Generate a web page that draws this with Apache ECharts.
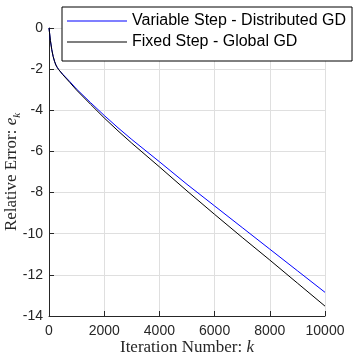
<!DOCTYPE html>
<html>
<head>
<meta charset="utf-8">
<script src="https://cdn.jsdelivr.net/npm/echarts@6/dist/echarts.min.js"></script>
<style>html,body{margin:0;padding:0;background:#fff}#c{width:360px;height:360px}</style>
</head>
<body>
<div id="c"></div>
<script>
const iterations   = [0, 50, 100, 150, 200, 250, 300, 350, 500, 750, 1000, 1500, 2000, 2500, 3000, 4000, 5000, 6000, 7000, 8000, 9000, 10000];
const variableStep = [0, -0.6, -1.05, -1.38, -1.62, -1.8, -1.92, -2.02, -2.25, -2.6, -2.97, -3.62, -4.25, -4.85, -5.42, -6.5, -7.6, -8.65, -9.7, -10.75, -11.8, -12.85];
const fixedStep    = [0, -0.6, -1.05, -1.38, -1.62, -1.8, -1.92, -2.02, -2.27, -2.64, -3.02, -3.7, -4.37, -5.0, -5.6, -6.75, -7.92, -9.06, -10.18, -11.28, -12.4, -13.52];
const seriesNames  = ['Variable Step - Distributed GD', 'Fixed Step - Global GD'];
const xTitle = 'Iteration Number: ';
const yTitle = 'Relative Error: ';
const xTicks = {min: 0, max: 10000, interval: 2000};
const yTicks = {min: -14, max: 0, interval: 2};

const pair = (xs, ys) => xs.map((x, i) => [x, ys[i]]);
const chart = echarts.init(document.getElementById('c'), null, {renderer: 'canvas'});
const sans = 'Liberation Sans, Arial, sans-serif';
const serif = 'Liberation Serif, DejaVu Serif, serif';
const titleRich = {
  n: {fontFamily: serif, fontSize: 17, fill: '#262626', lineHeight: 22, verticalAlign: 'middle'},
  i: {fontFamily: serif, fontSize: 17, fontStyle: 'italic', fill: '#262626', lineHeight: 22, verticalAlign: 'middle'},
  s: {fontFamily: serif, fontSize: 11, fontStyle: 'italic', fill: '#262626', lineHeight: 22, verticalAlign: 'bottom'}
};
chart.setOption({
  animation: false,
  backgroundColor: '#fff',
  grid: {left: 49, right: 35, top: 28, bottom: 44, containLabel: false, outerBoundsMode: 'none'},
  legend: {
    orient: 'vertical', left: 62, top: 7,
    icon: 'rect', itemWidth: 60, itemHeight: 1, itemGap: 1,
    padding: [4, 6, 9, 5],
    backgroundColor: '#fff', borderColor: '#000', borderWidth: 1,
    textStyle: {fontFamily: sans, fontSize: 16, color: '#000', lineHeight: 20},
    data: seriesNames
  },
  graphic: [
    {type: 'text', x: 187, y: 348, z: 10,
     style: {text: '{n|' + xTitle + '}{i|k}', rich: titleRich, align: 'center', verticalAlign: 'middle'}},
    {type: 'text', x: 12, y: 172, rotation: Math.PI / 2, z: 10,
     style: {text: '{n|' + yTitle + '}{i|e}{s|k}', rich: titleRich, align: 'center', verticalAlign: 'middle'}}
  ],
  xAxis: {
    type: 'value', min: xTicks.min, max: xTicks.max, interval: xTicks.interval,
    axisLine: {show: true, onZero: false, lineStyle: {color: '#262626', width: 1}},
    axisTick: {show: true, inside: true, length: 5, lineStyle: {color: '#262626'}},
    axisLabel: {fontFamily: sans, fontSize: 14, color: '#262626', margin: 8, formatter: v => String(v)},
    splitLine: {show: true, lineStyle: {color: '#dfdfdf', width: 1}}
  },
  yAxis: {
    type: 'value', min: yTicks.min, max: yTicks.max, interval: yTicks.interval,
    axisLine: {show: true, onZero: false, lineStyle: {color: '#262626', width: 1}},
    axisTick: {show: true, inside: true, length: 5, lineStyle: {color: '#262626'}},
    axisLabel: {fontFamily: sans, fontSize: 14, color: '#262626', margin: 6, formatter: v => String(v)},
    splitLine: {show: true, lineStyle: {color: '#dfdfdf', width: 1}}
  },
  series: [
    {name: seriesNames[0], type: 'line', data: pair(iterations, variableStep), symbol: 'none', smooth: false,
     lineStyle: {color: '#0000ff', width: 1}, itemStyle: {color: '#0000ff'}, z: 2},
    {name: seriesNames[1], type: 'line', data: pair(iterations, fixedStep), symbol: 'none', smooth: false,
     lineStyle: {color: '#000000', width: 1}, itemStyle: {color: '#000000'}, z: 3}
  ]
});
</script>
</body>
</html>
